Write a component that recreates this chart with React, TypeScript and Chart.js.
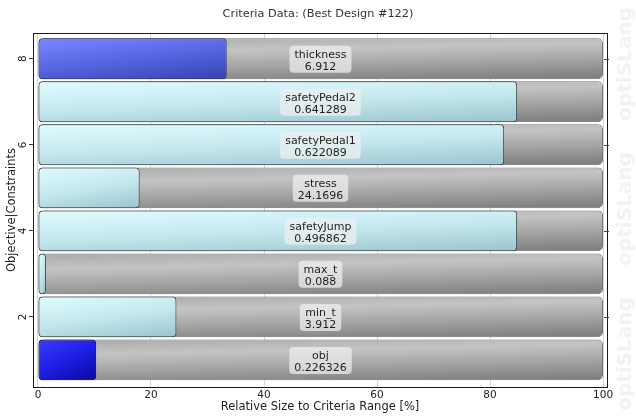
import React, { useEffect, useRef } from 'react';
import { Chart, registerables } from 'chart.js';

Chart.register(...registerables);

const rowPositions = [1, 2, 3, 4, 5, 6, 7, 8];
const criteriaNames = ['obj', 'min_t', 'max_t', 'safetyJump', 'stress', 'safetyPedal1', 'safetyPedal2', 'thickness'];
const criteriaValues = ['0.226326', '3.912', '0.088', '0.496862', '24.1696', '0.622089', '0.641289', '6.912'];
const relativeSizes = [10.3, 24.5, 1.4, 84.8, 18.0, 82.5, 84.8, 33.4];
const rangeSizes = [100, 100, 100, 100, 100, 100, 100, 100];
const criteriaKinds = ['objective', 'constraint', 'constraint', 'constraint', 'constraint', 'constraint', 'constraint', 'parameter'];
const xTicks = [0, 20, 40, 60, 80, 100];
const yTicks = [2, 4, 6, 8];
const labelCenter = 50;

const FONT = 'DejaVu Sans';

const palette: Record<string, { stops: [number, string][]; border: string; h: number }> = {
  objective: { stops: [[0, '#3c3cff'], [0.5, '#1e1ee4'], [1, '#08089a']], border: '#06064a', h: 0.4 },
  constraint: { stops: [[0, '#e0fcff'], [0.5, '#c4e8ee'], [1, '#9cc4ce']], border: '#2e4148', h: 0.3 },
  parameter: { stops: [[0, '#7888ff'], [0.5, '#5666e2'], [1, '#3442b2']], border: '#1d2466', h: 0.35 },
};
const rangeStops: [number, string][] = [[0, '#a8a8a8'], [0.3, '#c4c4c4'], [0.6, '#a6a6a6'], [1, '#7a7a7a']];

function rowBand(chart: any, r: number): [number, number] | null {
  const ys = chart.scales && chart.scales.y;
  if (!ys) return null;
  const c = ys.getPixelForValue(r);
  const h = Math.abs(ys.getPixelForValue(r + 0.5) - ys.getPixelForValue(r - 0.5)) * 0.95;
  if (!isFinite(c) || !isFinite(h) || h <= 0) return null;
  return [c - h / 2, c + h / 2];
}

// gradient whose colour varies mostly top->bottom and partly left->right
function diagGradient(chart: any, x0: number, x1: number, t: number, b: number, stops: [number, string][], hFrac: number) {
  const w = Math.max(4, x1 - x0);
  const hgt = Math.max(4, b - t);
  const a = hFrac / w;
  const bb = (1 - hFrac) / hgt;
  const n = a * a + bb * bb;
  const g = chart.ctx.createLinearGradient(x0, t, x0 + a / n, t + bb / n);
  stops.forEach(([o, c]) => g.addColorStop(o, c));
  return g;
}

function valueFill(ctx: any) {
  const p = palette[criteriaKinds[ctx.dataIndex] || 'constraint'];
  const chart = ctx.chart;
  if (ctx.type !== 'data' || !chart.scales || !chart.scales.x) return p.stops[1][1];
  const band = rowBand(chart, rowPositions[ctx.dataIndex]);
  const x0 = chart.scales.x.getPixelForValue(0);
  const x1 = chart.scales.x.getPixelForValue(relativeSizes[ctx.dataIndex]);
  if (!band || !isFinite(x0) || !isFinite(x1)) return p.stops[1][1];
  return diagGradient(chart, x0, x1, band[0], band[1], p.stops, p.h);
}

function valueBorder(ctx: any) {
  return palette[criteriaKinds[ctx.dataIndex] || 'constraint'].border;
}

function rangeFill(ctx: any) {
  const chart = ctx.chart;
  if (ctx.type !== 'data' || !chart.scales || !chart.scales.x) return '#aaaaaa';
  const band = rowBand(chart, rowPositions[ctx.dataIndex]);
  const x0 = chart.scales.x.getPixelForValue(0);
  const x1 = chart.scales.x.getPixelForValue(rangeSizes[ctx.dataIndex]);
  if (!band || !isFinite(x0) || !isFinite(x1)) return '#aaaaaa';
  return diagGradient(chart, x0, x1, band[0], band[1], rangeStops, 0.22);
}

const backgroundPlugin = {
  id: 'bgWatermark',
  beforeDraw(chart: any) {
    const { ctx, width, height } = chart;
    ctx.save();
    ctx.fillStyle = '#ffffff';
    ctx.fillRect(0, 0, width, height);
    ctx.fillStyle = '#f2f2f2';
    ctx.font = `bold 20px "${FONT}"`;
    ctx.textAlign = 'center';
    ctx.textBaseline = 'middle';
    [64, 209, 354].forEach((cy) => {
      ctx.save();
      ctx.translate(626, cy);
      ctx.rotate(-Math.PI / 2);
      ctx.fillText('optiSLang', 0, 0);
      ctx.restore();
    });
    ctx.restore();
  },
};

function roundRect(ctx: CanvasRenderingContext2D, x: number, y: number, w: number, h: number, r: number) {
  ctx.beginPath();
  ctx.moveTo(x + r, y);
  ctx.lineTo(x + w - r, y);
  ctx.quadraticCurveTo(x + w, y, x + w, y + r);
  ctx.lineTo(x + w, y + h - r);
  ctx.quadraticCurveTo(x + w, y + h, x + w - r, y + h);
  ctx.lineTo(x + r, y + h);
  ctx.quadraticCurveTo(x, y + h, x, y + h - r);
  ctx.lineTo(x, y + r);
  ctx.quadraticCurveTo(x, y, x + r, y);
  ctx.closePath();
}

const labelPlugin = {
  id: 'criteriaLabels',
  afterDatasetsDraw(chart: any) {
    const { ctx } = chart;
    const xs = chart.scales.x;
    const ys = chart.scales.y;
    ctx.save();
    ctx.font = `11px "${FONT}"`;
    ctx.textAlign = 'center';
    ctx.textBaseline = 'middle';
    rowPositions.forEach((r, i) => {
      const cx = xs.getPixelForValue(labelCenter);
      const cy = ys.getPixelForValue(r);
      const w = Math.max(ctx.measureText(criteriaNames[i]).width, ctx.measureText(criteriaValues[i]).width) + 10;
      roundRect(ctx, cx - w / 2, cy - 13, w, 27, 4);
      ctx.fillStyle = 'rgba(238,240,240,0.72)';
      ctx.fill();
      ctx.fillStyle = '#1e1e1e';
      ctx.fillText(criteriaNames[i], cx, cy - 4);
      ctx.fillText(criteriaValues[i], cx, cy + 8);
    });
    ctx.restore();
  },
};

const framePlugin = {
  id: 'frame',
  afterDraw(chart: any) {
    const { ctx, chartArea } = chart;
    const { left, top, right, bottom } = chartArea;
    ctx.save();
    ctx.strokeStyle = '#1a1a1a';
    ctx.lineWidth = 1;
    ctx.strokeRect(Math.round(left) + 0.5, Math.round(top) + 0.5, Math.round(right - left), Math.round(bottom - top));
    const ys = chart.scales.y;
    ctx.strokeStyle = '#444';
    yTicks.forEach((v) => {
      const py = Math.round(ys.getPixelForValue(v)) + 0.5;
      ctx.beginPath();
      ctx.moveTo(right - 3, py);
      ctx.lineTo(right + 2, py);
      ctx.stroke();
    });
    ctx.restore();
  },
};

export default function App() {
  const ref = useRef<HTMLCanvasElement>(null);

  useEffect(() => {
    if (!ref.current) return;
    const chart = new Chart(ref.current, {
      type: 'bar',
      data: {
        datasets: [
          {
            label: 'value',
            data: rowPositions.map((r, i) => ({ x: relativeSizes[i], y: r })),
            grouped: false,
            order: 1,
            barPercentage: 0.95,
            categoryPercentage: 1,
            backgroundColor: valueFill,
            borderColor: valueBorder,
            borderWidth: 1,
            borderRadius: 4,
            borderSkipped: false,
          } as any,
          {
            label: 'range',
            data: rowPositions.map((r, i) => ({ x: rangeSizes[i], y: r })),
            grouped: false,
            order: 2,
            barPercentage: 0.95,
            categoryPercentage: 1,
            backgroundColor: rangeFill,
            borderColor: '#6e6e6e',
            borderWidth: 1,
            borderRadius: 5,
            borderSkipped: false,
          } as any,
        ],
      },
      options: {
        indexAxis: 'y',
        animation: false,
        responsive: false,
        maintainAspectRatio: false,
        layout: { padding: 0 },
        plugins: {
          legend: { display: false },
          tooltip: { enabled: false },
          title: {
            display: true,
            text: 'Criteria Data: (Best Design #122)',
            color: '#333333',
            font: { family: FONT, size: 11.3, weight: 'normal' },
            padding: { top: 7, bottom: 12.4 },
          },
        },
        scales: {
          x: {
            type: 'linear',
            min: -0.88,
            max: 100.7,
            afterBuildTicks: (s: any) => {
              s.ticks = xTicks.map((v) => ({ value: v }));
            },
            afterFit: (s: any) => {
              s.height = 30;
            },
            grid: { color: '#d6d6d6', drawTicks: false },
            border: { display: false },
            ticks: {
              padding: 2,
              color: '#222',
              maxRotation: 0,
              autoSkip: false,
              font: { family: FONT, size: 10.5 },
            },
            title: {
              display: true,
              text: 'Relative Size to Criteria Range [%]',
              color: '#222',
              font: { family: FONT, size: 11.5 },
              padding: { top: 0, bottom: 3 },
            },
          },
          y: {
            type: 'linear',
            min: 0.37,
            max: 8.6,
            offset: false,
            afterBuildTicks: (s: any) => {
              s.ticks = yTicks.map((v) => ({ value: v }));
            },
            afterFit: (s: any) => {
              s.width = 33;
            },
            grid: { drawOnChartArea: false, offset: false, tickLength: 4, color: '#333' },
            border: { display: false },
            ticks: {
              minRotation: 90,
              maxRotation: 90,
              crossAlign: 'center',
              padding: 2,
              color: '#222',
              autoSkip: false,
              font: { family: FONT, size: 10.5 },
            },
            title: {
              display: true,
              text: 'Objective|Constraints',
              color: '#222',
              font: { family: FONT, size: 11.5 },
              padding: { top: 5, bottom: 0 },
            },
          },
          yRightSpace: {
            type: 'linear',
            position: 'right',
            display: true,
            afterFit: (s: any) => {
              s.width = 29;
            },
            grid: { display: false },
            border: { display: false },
            ticks: { display: false },
          },
        },
      } as any,
      plugins: [backgroundPlugin, labelPlugin, framePlugin],
    });
    return () => chart.destroy();
  }, []);

  return (
    <div style={{ position: 'fixed', left: 0, top: 0, width: 636, height: 417, background: '#fff' }}>
      <canvas ref={ref} width={636} height={417} style={{ display: 'block', width: 636, height: 417 }} />
    </div>
  );
}
